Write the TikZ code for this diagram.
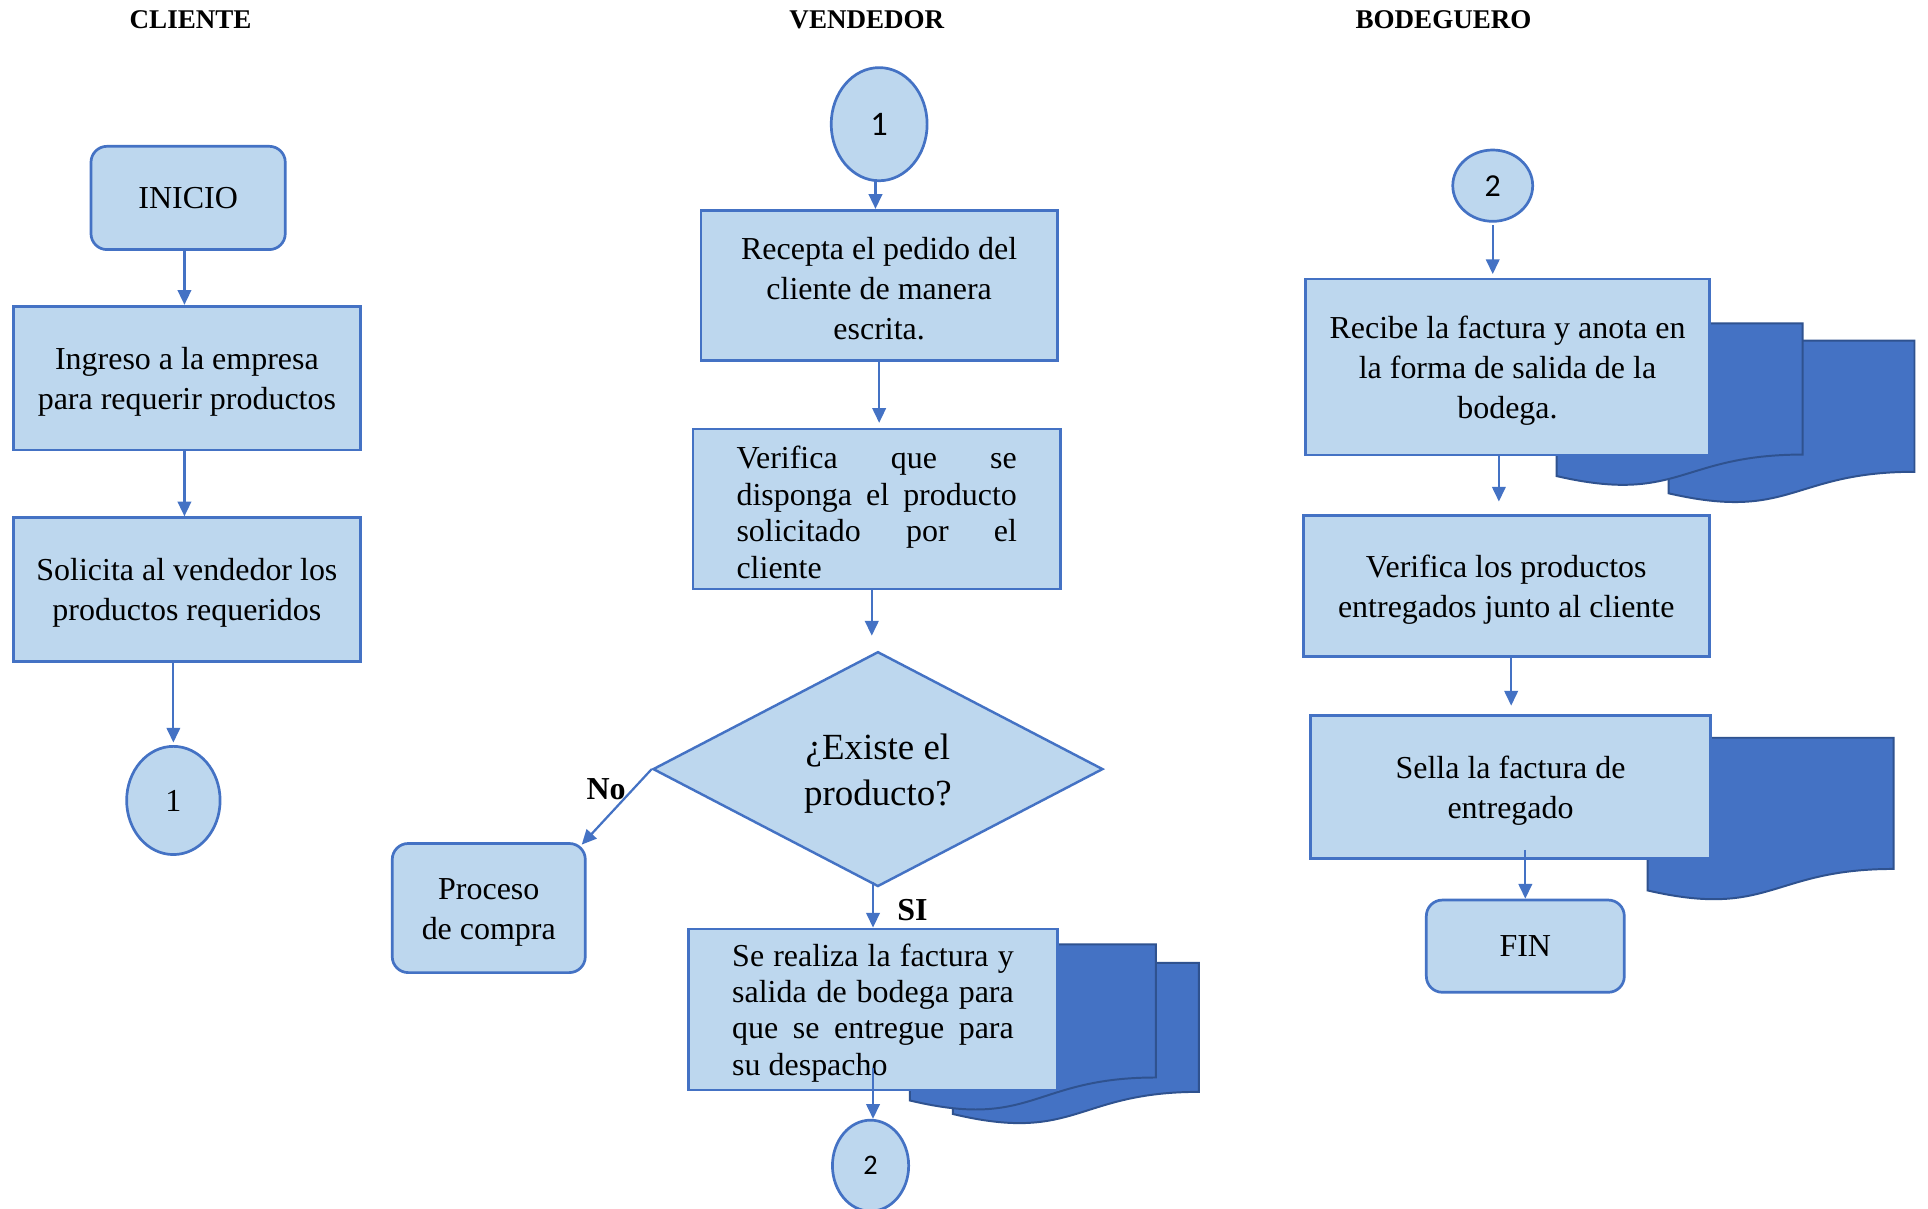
\documentclass[tikz,border=0pt]{standalone}
\usepackage{fontspec}
\setmainfont{Liberation Serif}
\newfontfamily\calibri{Carlito}
\usetikzlibrary{arrows.meta,shapes.geometric,calc}
\definecolor{boxfill}{HTML}{BDD7EE}
\definecolor{boxline}{HTML}{4472C4}
\definecolor{docfill}{HTML}{4472C4}
\definecolor{docline}{HTML}{2F528F}

\begin{document}
\begin{tikzpicture}[x=0.5pt,y=-0.5pt,
  box/.style={draw=boxline, fill=boxfill, line width=1.1pt, inner sep=0pt,
    font=\fontsize{13}{16.25}\selectfont, align=center},
  rbox/.style={box, rounded corners=6.5pt},
  conn/.style={box, ellipse, font=\calibri\fontsize{12}{13}\selectfont},
  arr/.style={draw=boxline, line width=0.9pt, -{Triangle[length=6pt,width=5.5pt]}},
  doc/.style={fill=docfill, draw=docline, line width=0.8pt},
  lane/.style={font=\bfseries\fontsize{11}{13}\selectfont},
  lbl/.style={font=\bfseries\fontsize{13}{15}\selectfont}]

\useasboundingbox (0,0) rectangle (1568,983);
\fill[white] (0,0) rectangle (1568,983);

% lane titles
\node[lane] (tc) at (155,16) {CLIENTE};
\node[lane] (tv) at (705,16) {VENDEDOR};
\node[lane] (tb) at (1174,16) {BODEGUERO};

% stacked documents behind the process boxes
\draw[doc] (775,783) -- (975,783) -- (975,888) .. controls (875,888) and (875,930) .. (775,906) -- cycle;
\draw[doc] (740,768) -- (940,768) -- (940,876.3) .. controls (840,876.3) and (840,919) .. (740,895) -- cycle;
\draw[doc] (1357,277) -- (1557,277) -- (1557,383.7) .. controls (1457,383.7) and (1457,424.3) .. (1357,401.2) -- cycle;
\draw[doc] (1266,263) -- (1466,263) -- (1466,369.7) .. controls (1366,369.7) and (1366,410.3) .. (1266,387.2) -- cycle;
\draw[doc] (1340,600) -- (1540,600) -- (1540,706.7) .. controls (1440,706.7) and (1440,747.3) .. (1340,724.2) -- cycle;

% CLIENTE
\node[rbox, minimum width=79pt, minimum height=42pt] (inicio) at (153,161) {INICIO};
\node[box, minimum width=141pt, minimum height=58.5pt] (ingreso) at (152,307.5)
  {\rule{0pt}{12pt}Ingreso a la empresa\\para requerir productos};
\node[box, minimum width=141pt, minimum height=58.5pt] (solicita) at (152,479.5)
  {\rule{0pt}{12pt}Solicita al vendedor los\\productos requeridos};
\node[conn, font=\fontsize{13}{15}\selectfont, minimum width=38pt, minimum height=44pt] (c1) at (141,651) {1};

% VENDEDOR
\node[conn, font=\calibri\fontsize{14}{15}\selectfont, minimum width=39pt, minimum height=46pt] (v1) at (715,101) {1};
\node[box, minimum width=145pt, minimum height=61pt] (recepta) at (715,232)
  {\rule{0pt}{12pt}Recepta el pedido del\\cliente de manera\\escrita.};
\node[box, minimum width=149.5pt, minimum height=65pt, align=left,
  font=\fontsize{13}{14.85}\selectfont] (verifica) at (713,414)
  {\rule{0pt}{12pt}\makebox[114pt][s]{Verifica que se}\\
   \makebox[114pt][s]{disponga el producto}\\
   \makebox[114pt][s]{solicitado por el}\\
   cliente};
\node[draw=boxline, fill=boxfill, line width=1pt, diamond, aspect=1.92, inner sep=0pt,
  minimum width=183pt, minimum height=95.5pt, align=center,
  font=\fontsize{15}{19}\selectfont] (dec) at (714,625.5) {\rule{0pt}{14pt}¿Existe el\\producto?};
\node[rbox, minimum width=78.5pt, minimum height=52.5pt] (proceso) at (397.5,738.5)
  {\rule{0pt}{12pt}Proceso\\de compra};
\node[box, minimum width=150pt, minimum height=65.5pt, align=left,
  font=\fontsize{13}{14.75}\selectfont] (factura) at (710,821)
  {\rule{0pt}{12pt}\makebox[114.5pt][s]{Se realiza la factura y}\\
   \makebox[114.5pt][s]{salida de bodega para}\\
   \makebox[114.5pt][s]{que se entregue para}\\
   su despacho};
\node[conn, font=\calibri\fontsize{11.5}{13}\selectfont, minimum width=31pt, minimum height=37pt] (v2) at (708,948) {2};

% BODEGUERO
\node[conn, font=\calibri\fontsize{13}{14}\selectfont, minimum width=32.5pt, minimum height=29pt] (b2) at (1214,151) {2};
\node[box, minimum width=164pt, minimum height=71.5pt] (recibe) at (1226,298.5)
  {\rule{0pt}{12pt}Recibe la factura y anota en\\la forma de salida de la\\bodega.};
\node[box, minimum width=165pt, minimum height=57.5pt] (verprod) at (1225,476.5)
  {\rule{0pt}{12pt}Verifica los productos\\entregados junto al cliente};
\node[box, minimum width=162.5pt, minimum height=58pt] (sella) at (1228.5,640)
  {\rule{0pt}{12pt}Sella la factura de\\entregado};
\node[rbox, minimum width=80.5pt, minimum height=37.5pt] (fin) at (1240.5,769.5) {FIN};

% connectors
\draw[arr] ($(inicio.south)+(-3,0)$) -- ($(inicio.south |- ingreso.north)+(-3,0)$);
\draw[arr] ($(ingreso.south)+(-2,0)$) -- ($(ingreso.south |- solicita.north)+(-2,0)$);
\draw[arr] (c1.north |- solicita.south) -- ($(c1.north)+(0,-2)$);
\draw[arr] ($(v1.south)+(-3,0)$) -- ($(v1.south |- recepta.north)+(-3,0)$);
\draw[arr] (recepta.south) -- ($(recepta.south |- verifica.north)+(0,-4)$);
\draw[arr] ($(verifica.south)+(-4,0)$) -- ($(dec.north)+(-5,-12)$);
\draw[arr] (dec.west) -- ($(proceso.north east)+(-4,2)$);
\draw[arr] ($(dec.south)+(-4,-5)$) -- ($(dec.south |- factura.north)+(-4,0)$);
\draw[arr] ($(v2.north |- factura.south)+(2,-19)$) -- ($(v2.north)+(2,0)$);
\draw[arr] ($(b2.south)+(0,2)$) -- ($(b2.south |- recibe.north)+(0,-3)$);
\draw[arr] ($(recibe.south)+(-7,0)$) -- ($(recibe.south |- verprod.north)+(-7,-10)$);
\draw[arr] ($(verprod.south)+(4,0)$) -- ($(verprod.south |- sella.north)+(4,-7)$);
\draw[arr] ($(fin.north |- sella.south)+(0,-8)$) -- (fin.north);

% branch labels
\node[lbl] (no) at (493,642) {No};
\node[lbl] (si) at (742,740) {SI};
\end{tikzpicture}
\end{document}
